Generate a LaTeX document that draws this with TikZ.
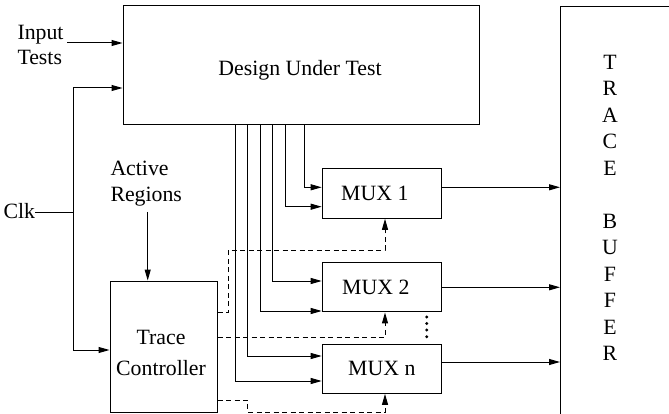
\documentclass[tikz,border=0pt]{standalone}
\usepackage{fontspec}
\setmainfont{Liberation Serif}
\usetikzlibrary{arrows.meta}

\begin{document}
\begin{tikzpicture}[x=1pt, y=-1pt,
  font=\fontsize{21.8}{25}\selectfont,
  line width=1pt,
  >={Triangle[length=11pt,width=6pt]},
  box/.style={draw, rectangle, inner sep=0pt},
  txt/.style={inner sep=0pt, anchor=base west},
  ctl/.style={dash pattern=on 5pt off 3.5pt},
]
\clip (0,0) rectangle (669,414);

% main blocks
\node[box, minimum width=356pt, minimum height=119pt] (dut) at (301,65.5) {};
\node[txt, anchor=base] (dutt) at (300,76) {Design Under Test};

\node[box, minimum width=160pt, minimum height=440pt, anchor=north west] (buf) at (560,6) {};
\foreach \l/\y [count=\i] in {T/62,R/88.5,A/115,C/141.5,E/168,B/221,U/247.5,F/274,F/300.5,E/327,R/353.5}
  \node[inner sep=0pt] (bl\i) at (610,\y) {\l};

\node[box, minimum width=107pt, minimum height=131pt] (tc) at (163.5,346.5) {};
\node[txt, anchor=base] (tct1) at (161,344) {Trace};
\node[txt, anchor=base] (tct2) at (161,375) {Controller};

% multiplexers
\node[box, minimum width=119pt, minimum height=49.6pt] (mux1) at (381.7,193.5) {};
\node[box, minimum width=119pt, minimum height=49.3pt] (mux2) at (381.7,287.3) {};
\node[box, minimum width=119pt, minimum height=49.3pt] (muxn) at (381.7,368.7) {};
\node[txt] (mux1t) at (340.7,200.7) {MUX 1};
\node[txt] (mux2t) at (341.7,294.3) {MUX 2};
\node[txt] (muxnt) at (347.7,375) {MUX n};

% external labels
\node[txt] (in1) at (17,40) {Input};
\node[txt] (in2) at (17,65) {Tests};
\node[txt] (ar1) at (110,175.7) {Active};
\node[txt] (ar2) at (110,201) {Regions};
\node[txt] (clk) at (3,218.3) {Clk};

% input tests and clock
\coordinate (inp) at (67,43);
\draw[->] (inp) -- (dut.west |- inp);
\coordinate (cj) at (73,213);
\draw (clk.east |- cj) -- (cj);
\draw[->] (cj) |- (dut.west |- 0,88);
\draw[->] (cj) |- (tc.west |- 0,350);

% active regions into the controller
\draw[->] (147.7,212) -- (tc.north -| 147.7,0);

% signals from the design to the multiplexers
\draw[->] (dut.south -| 304,0) |- (mux1.west |- 0,187.3);
\draw[->] (dut.south -| 285,0) |- (mux1.west |- 0,206.7);
\draw[->] (dut.south -| 272.7,0) |- (mux2.west |- 0,281);
\draw[->] (dut.south -| 260,0) |- (mux2.west |- 0,311);
\draw[->] (dut.south -| 247.7,0) |- (muxn.west |- 0,356);
\draw[->] (dut.south -| 235,0) |- (muxn.west |- 0,381);

% multiplexer outputs into the trace buffer
\draw[->] (mux1.east |- 0,187.3) -- (buf.west |- 0,187.3);
\draw[->] (mux2.east |- 0,287.3) -- (buf.west |- 0,287.3);
\draw[->] (muxn.east |- 0,362) -- (buf.west |- 0,362);

% select lines from the controller
\draw[ctl,->] (tc.east |- 0,312.3) -- (228.3,312.3) -- (228.3,250) -| (mux1.south -| 385,0);
\draw[ctl,->] (tc.east |- 0,337) -| (mux2.south -| 385,0);
\draw[ctl,->] (tc.east |- 0,400) -- (247.7,400) -- (247.7,412) -| (muxn.south -| 385,0);

% ellipsis between MUX 2 and MUX n
\foreach \y [count=\i] in {317,323.5,330,336.7}
  \fill (426.7,\y) circle (1.6pt) coordinate (dot\i);
\end{tikzpicture}
\end{document}
